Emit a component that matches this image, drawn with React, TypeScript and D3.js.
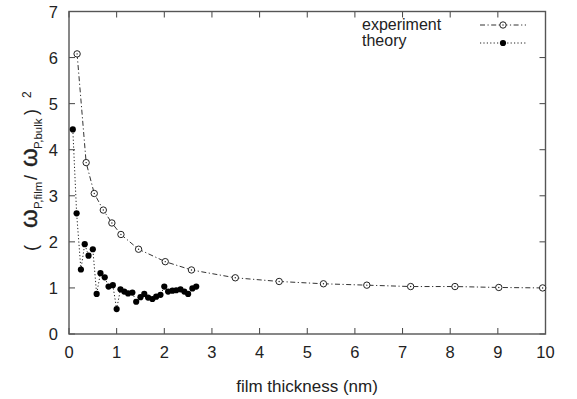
import React from 'react';
import * as d3 from 'd3';

const W = 577;
const H = 399;
const M = { top: 11.5, right: 31.5, bottom: 65, left: 69 };

// measured film (experiment) values
const EXP_X = [0.17, 0.36, 0.53, 0.72, 0.9, 1.09, 1.46, 2.02, 2.57, 3.49, 4.41, 5.34, 6.25, 7.17, 8.1, 9.02, 9.94];
const EXP_Y = [6.08, 3.72, 3.05, 2.69, 2.41, 2.16, 1.84, 1.57, 1.39, 1.22, 1.14, 1.09, 1.06, 1.03, 1.03, 1.01, 1.0];

// calculated values
const THEORY_X = [0.08, 0.16, 0.25, 0.33, 0.41, 0.5, 0.58, 0.66, 0.75, 0.83, 0.92, 1.0, 1.08, 1.16, 1.24, 1.33,
  1.41, 1.5, 1.58, 1.66, 1.75, 1.83, 1.92, 2.0, 2.08, 2.17, 2.25, 2.34, 2.42, 2.5, 2.59, 2.67];
const THEORY_Y = [4.44, 2.62, 1.4, 1.95, 1.7, 1.84, 0.87, 1.32, 1.23, 1.03, 1.06, 0.54, 0.97, 0.92, 0.88, 0.9,
  0.7, 0.8, 0.87, 0.79, 0.76, 0.81, 0.85, 1.03, 0.92, 0.94, 0.95, 0.97, 0.92, 0.87, 0.99, 1.03];

const X_TICKS = [0, 1, 2, 3, 4, 5, 6, 7, 8, 9, 10];
const Y_TICKS = [0, 1, 2, 3, 4, 5, 6, 7];

const FONT = 'Liberation Sans, Arial, Helvetica, sans-serif';
const EXP_DASH = '5,2.5,1.2,2.5';
const THEORY_DASH = '1.2,2.2';

type Pt = [number, number];

export default function App() {
  const x = d3.scaleLinear().domain([0, 10]).range([M.left, W - M.right]);
  const y = d3.scaleLinear().domain([0, 7]).range([H - M.bottom, M.top]);

  const line = d3.line<Pt>().x(d => x(d[0])).y(d => y(d[1]));
  const exp: Pt[] = EXP_X.map((v, i) => [v, EXP_Y[i]]);
  const theory: Pt[] = THEORY_X.map((v, i) => [v, THEORY_Y[i]]);

  const x0 = x(0), x1 = x(10), y0 = y(0), y1 = y(7);
  const tick = 6;

  return (
    <svg width={W} height={H} style={{ position: 'absolute', left: 0, top: 0, background: '#fff' }}>
      {/* ticks on all four sides, pointing inward */}
      <g stroke="#444" strokeWidth={1}>
        {X_TICKS.map(t => (
          <g key={'x' + t}>
            <line x1={x(t)} x2={x(t)} y1={y0} y2={y0 - tick} />
            <line x1={x(t)} x2={x(t)} y1={y1} y2={y1 + tick} />
          </g>
        ))}
        {Y_TICKS.map(t => (
          <g key={'y' + t}>
            <line x1={x0} x2={x0 + tick} y1={y(t)} y2={y(t)} />
            <line x1={x1} x2={x1 - tick} y1={y(t)} y2={y(t)} />
          </g>
        ))}
      </g>
      <rect x={x0} y={y1} width={x1 - x0} height={y0 - y1} fill="none" stroke="#555" strokeWidth={1.4} />

      {/* tick labels */}
      <g fontFamily={FONT} fontSize={16.5} fill="#222">
        {X_TICKS.map(t => (
          <text key={'xl' + t} x={x(t)} y={358} textAnchor="middle">{t}</text>
        ))}
        {Y_TICKS.map(t => (
          <text key={'yl' + t} x={58} y={y(t) + 6} textAnchor="end">{t}</text>
        ))}
      </g>

      {/* axis titles */}
      <text x={307} y={392} textAnchor="middle" fontFamily={FONT} fontSize={17} fill="#222">
        film thickness (nm)
      </text>
      <g transform="translate(37,251) rotate(-90)" fontFamily={FONT} fill="#222">
        <text x={0} y={0} fontSize={18}>(</text>
        <text x={23} y={0} fontSize={24} stroke="#222" strokeWidth={0.4}>ω</text>
        <text x={42} y={5} fontSize={11.5}>P,film</text>
        <text x={71} y={0} fontSize={18}>/</text>
        <text x={84} y={0} fontSize={24} stroke="#222" strokeWidth={0.4}>ω</text>
        <text x={102} y={5} fontSize={11.5}>P,bulk</text>
        <text x={136} y={0} fontSize={18}>)</text>
        <text x={153} y={-6} fontSize={12}>2</text>
      </g>

      {/* series */}
      <path d={line(exp) ?? ''} fill="none" stroke="#333" strokeWidth={1} strokeDasharray={EXP_DASH} />
      <path d={line(theory) ?? ''} fill="none" stroke="#222" strokeWidth={1} strokeDasharray={THEORY_DASH} />
      {exp.map((d, i) => (
        <g key={'e' + i}>
          <circle cx={x(d[0])} cy={y(d[1])} r={3.2} fill="#fff" stroke="#222" strokeWidth={1} />
          <circle cx={x(d[0])} cy={y(d[1])} r={0.7} fill="#222" />
        </g>
      ))}
      {theory.map((d, i) => (
        <circle key={'t' + i} cx={x(d[0])} cy={y(d[1])} r={3.1} fill="#000" />
      ))}

      {/* legend */}
      <g fontFamily={FONT} fontSize={16} fill="#222">
        <text x={362} y={29.5}>experiment</text>
        <text x={362} y={46}>theory</text>
      </g>
      <line x1={480} x2={526} y1={25} y2={25} stroke="#333" strokeWidth={1} strokeDasharray={EXP_DASH} />
      <circle cx={503} cy={25} r={3.2} fill="#fff" stroke="#222" strokeWidth={1} />
      <circle cx={503} cy={25} r={0.7} fill="#222" />
      <line x1={480} x2={526} y1={43} y2={43} stroke="#222" strokeWidth={1} strokeDasharray={THEORY_DASH} />
      <circle cx={503} cy={43} r={3.1} fill="#000" />
    </svg>
  );
}
